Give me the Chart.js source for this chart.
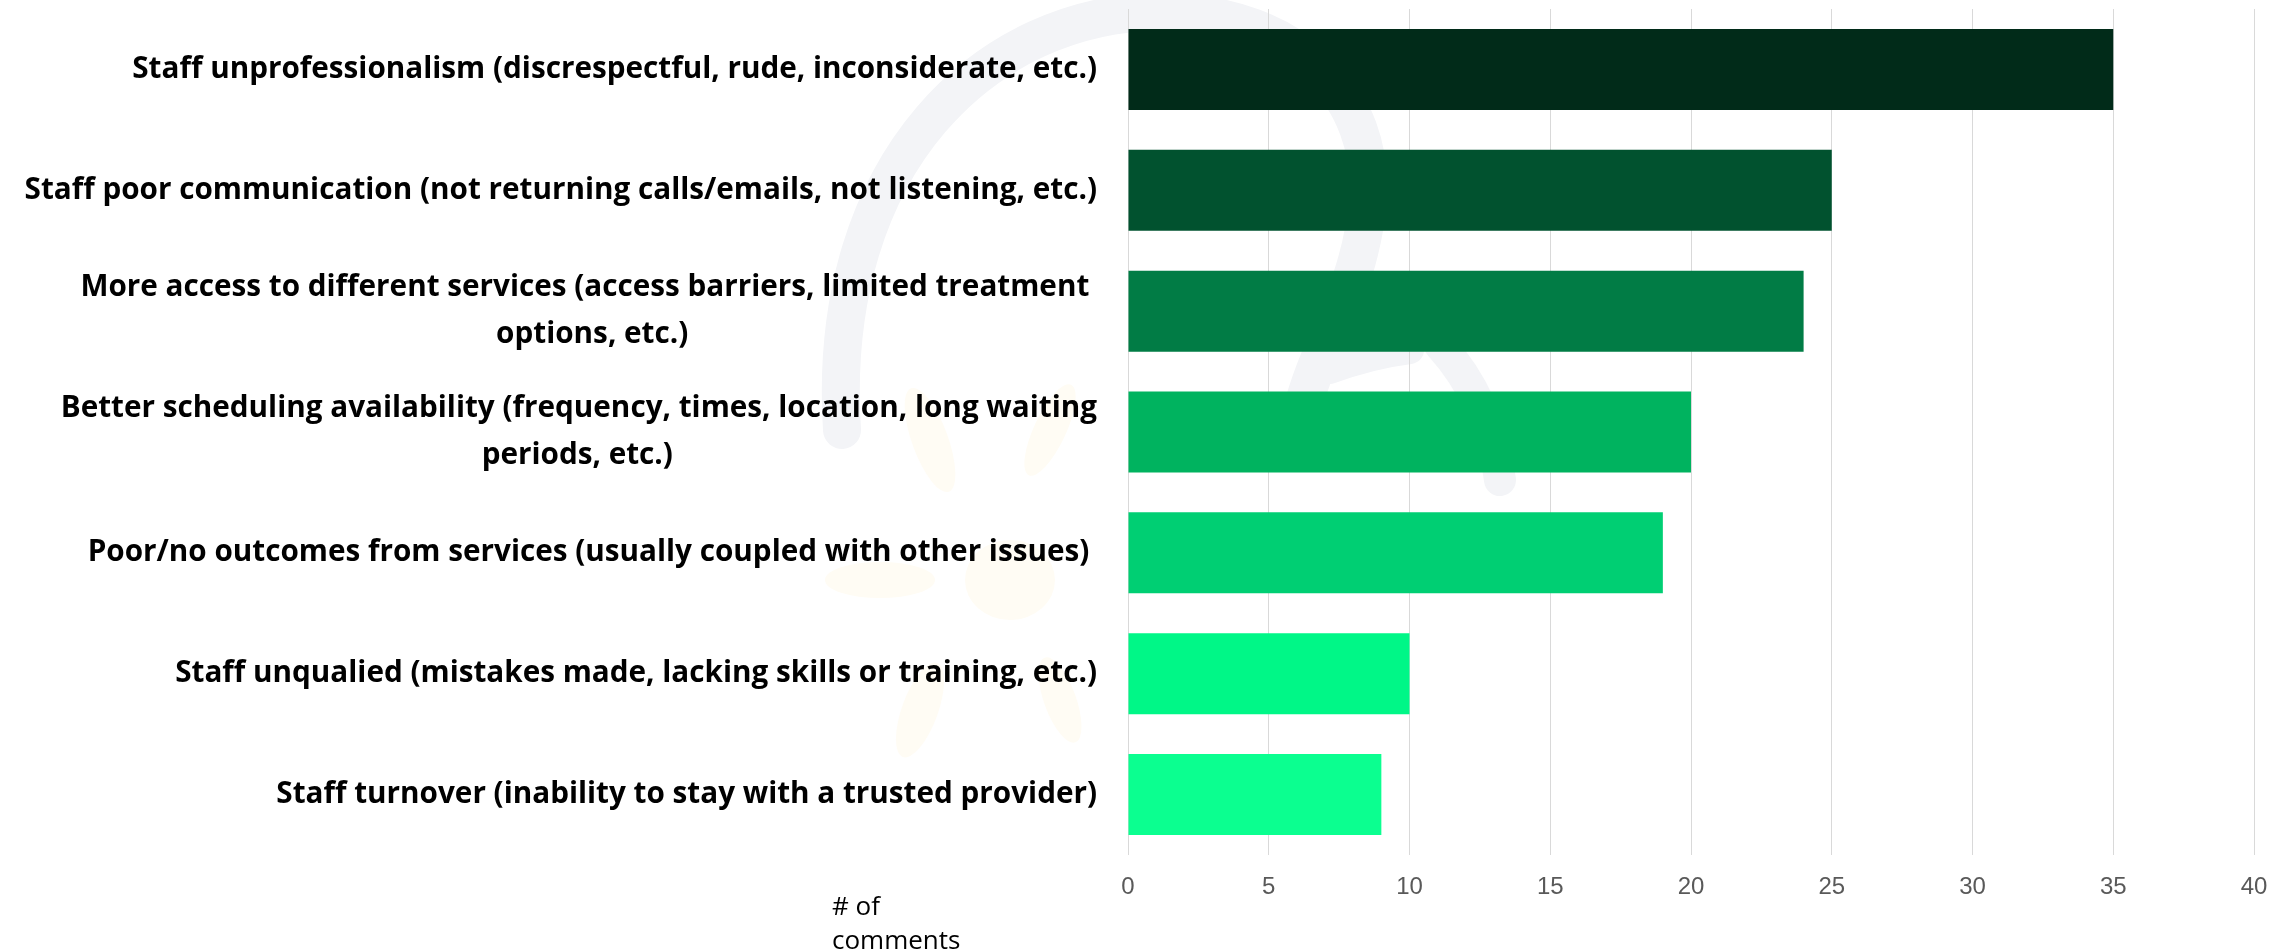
<!DOCTYPE html>
<html>
<head>
<meta charset="utf-8">
<script src="https://cdn.jsdelivr.net/npm/chart.js@4"></script>
<style>
  html, body { margin: 0; padding: 0; background: #ffffff; }
  #wrap { position: relative; width: 2285px; height: 951px; }
  #bg { position: absolute; left: 0; top: 0; }
  #c { position: absolute; left: 0; top: 0; }
  #note { position: absolute; left: 832px; top: 888px; font-family: "Open Sans", sans-serif; font-size: 26px; line-height: 34px; color: #000; }
</style>
</head>
<body>
<div id="wrap">
  <svg id="bg" width="2285" height="951">
    <path d="M 842 430 C 825 160, 990 12, 1160 12 C 1300 12, 1375 100, 1368 200 C 1360 290, 1320 340, 1302 410" stroke="#f3f4f7" stroke-width="38" fill="none" stroke-linecap="round"/>
    <path d="M 1330 370 Q 1370 355 1410 350" stroke="#f3f4f7" stroke-width="28" fill="none" stroke-linecap="round"/>
    <path d="M 1440 345 Q 1490 400 1500 480" stroke="#f3f4f7" stroke-width="32" fill="none" stroke-linecap="round"/>
    <g fill="#fffcf4">
      <ellipse cx="930" cy="440" rx="18" ry="55" transform="rotate(-20 930 440)"/>
      <ellipse cx="1050" cy="430" rx="16" ry="50" transform="rotate(25 1050 430)"/>
      <ellipse cx="880" cy="580" rx="55" ry="18"/>
      <ellipse cx="1010" cy="580" rx="45" ry="40"/>
      <ellipse cx="920" cy="710" rx="18" ry="50" transform="rotate(20 920 710)"/>
      <ellipse cx="1060" cy="700" rx="16" ry="45" transform="rotate(-20 1060 700)"/>
    </g>
  </svg>
  <canvas id="c" width="2285" height="951"></canvas>
  <div id="note"># of<br>comments</div>
</div>
<script>
const categories = [
  ["Staff unprofessionalism (discrespectful, rude, inconsiderate, etc.)"],
  ["Staff poor communication (not returning calls/emails, not listening, etc.)"],
  ["More access to different services (access barriers, limited treatment ", "options, etc.)"],
  ["Better scheduling availability (frequency, times, location, long waiting", "periods, etc.)"],
  ["Poor/no outcomes from services (usually coupled with other issues) "],
  ["Staff unqualied (mistakes made, lacking skills or training, etc.)"],
  ["Staff turnover (inability to stay with a trusted provider)"]
];
const commentCounts = [35, 25, 24, 20, 19, 10, 9];
const barColors = ["#012b19", "#01522f", "#017c45", "#00b35f", "#00cf73", "#00f787", "#0bff90"];
const xTicks = [0, 5, 10, 15, 20, 25, 30, 35, 40];

const labelFont = "bold 29.7px 'Open Sans'";
function centerLines(lines) {
  if (lines.length < 2) return lines;
  const ctx = document.createElement('canvas').getContext('2d');
  ctx.font = labelFont;
  const w0 = ctx.measureText(lines[0]).width;
  const sp = ctx.measureText(' ').width;
  return lines.map((l, i) => {
    if (i === 0) return l;
    const w = ctx.measureText(l).width;
    const n = Math.max(0, Math.round((w0 - w) / 2 / sp));
    return l + ' '.repeat(n);
  });
}

document.fonts.load(labelFont).then(() => {
  const labels = categories.map(centerLines);
  new Chart(document.getElementById('c'), {
    type: 'bar',
    data: {
      labels: labels,
      datasets: [{
        data: commentCounts,
        backgroundColor: barColors,
        borderWidth: 0,
        categoryPercentage: 0.67,
        barPercentage: 1.0
      }]
    },
    options: {
      indexAxis: 'y',
      responsive: false,
      animation: false,
      layout: { padding: { left: 0, right: 31, top: 9, bottom: 0 } },
      plugins: { legend: { display: false }, tooltip: { enabled: false } },
      scales: {
        x: {
          min: 0, max: 40,
          afterBuildTicks: (s) => { s.ticks = xTicks.map(v => ({ value: v })); },
          grid: { color: '#d9d9d9', lineWidth: 1, drawTicks: false, tickLength: 0 },
          border: { display: false },
          ticks: { color: '#595959', font: { family: "'Liberation Sans', Arial", size: 24 }, padding: 18 },
          afterFit: (s) => { s.height = 96; s.paddingLeft = 0; s.paddingRight = 0; }
        },
        y: {
          grid: { display: false },
          border: { display: false },
          ticks: { color: '#000000', font: { family: "'Open Sans'", size: 29.7, weight: 'bold', lineHeight: 1.6 }, padding: 23, autoSkip: false },
          afterFit: (s) => { s.width = 1128; s.paddingTop = 0; s.paddingBottom = 0; }
        }
      }
    }
  });
});
</script>
</body>
</html>
